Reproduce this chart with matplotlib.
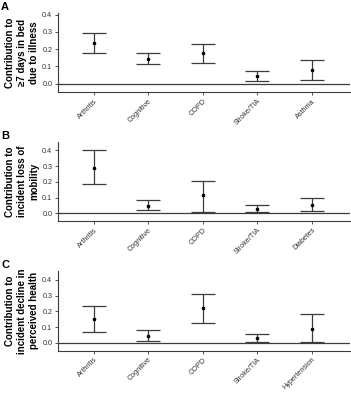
import matplotlib
matplotlib.use("Agg")
import matplotlib.pyplot as plt

plt.rcParams['font.family'] = ['Liberation Sans', 'DejaVu Sans']

# panel A: >=7 days in bed due to illness
cats_a = ["Arthritis", "Cognitive", "COPD", "Stroke/TIA", "Asthma"]
est_a = [0.235, 0.143, 0.178, 0.043, 0.080]
lo_a = [0.175, 0.113, 0.120, 0.017, 0.022]
hi_a = [0.295, 0.175, 0.232, 0.073, 0.135]

# panel B: incident loss of mobility
cats_b = ["Arthritis", "Cognitive", "COPD", "Stroke/TIA", "Diabetes"]
est_b = [0.290, 0.046, 0.113, 0.027, 0.053]
lo_b = [0.188, 0.018, 0.005, 0.005, 0.015]
hi_b = [0.405, 0.085, 0.207, 0.052, 0.100]

# panel C: incident decline in perceived health
cats_c = ["Arthritis", "Cognitive", "COPD", "Stroke/TIA", "Hypertension"]
est_c = [0.150, 0.040, 0.220, 0.028, 0.090]
lo_c = [0.070, 0.012, 0.128, 0.005, 0.005]
hi_c = [0.235, 0.080, 0.310, 0.056, 0.183]

ylabels = ["Contribution to\n\u22657 days in bed\ndue to illness",
           "Contribution to\nincident loss of\nmobility",
           "Contribution to\nincident decline in\nperceived health"]
letters = ["A", "B", "C"]
yticks = [0.0, 0.1, 0.2, 0.3, 0.4]

fig = plt.figure(figsize=(3.51, 3.94), dpi=100)
boxes = [(0.165, 0.766, 0.832, 0.201),
         (0.165, 0.439, 0.832, 0.201),
         (0.165, 0.110, 0.832, 0.202)]
tops = [0.41, 0.455, 0.455]
panels = [(cats_a, est_a, lo_a, hi_a), (cats_b, est_b, lo_b, hi_b),
          (cats_c, est_c, lo_c, hi_c)]

grey = "#3c3c3c"
for i, (cats, est, lo, hi) in enumerate(panels):
    ax = fig.add_axes(boxes[i])
    x = list(range(len(cats)))
    err = [[e - l for e, l in zip(est, lo)], [h - e for e, h in zip(est, hi)]]
    ax.errorbar(x, est, yerr=err, fmt="o", color="black", ms=1.6,
                ecolor=grey, elinewidth=0.9, capsize=8.5, capthick=0.9)
    ax.axhline(0, color=grey, lw=0.9)
    ax.set_xlim(-0.66, 4.7)
    ax.set_ylim(-0.05, tops[i])
    ax.set_yticks(yticks)
    ax.set_yticklabels(["%.1f" % t for t in yticks])
    ax.set_xticks(x)
    ax.set_xticklabels(cats, rotation=45, ha="right", rotation_mode="anchor")
    for s in ["top", "right"]:
        ax.spines[s].set_visible(False)
    for s in ["left", "bottom"]:
        ax.spines[s].set_color(grey)
        ax.spines[s].set_linewidth(0.8)
    ax.tick_params(labelsize=5.2, colors="#333333", length=2.5, width=0.6, pad=1.5)
    ax.set_ylabel(ylabels[i], fontsize=7, fontweight="bold", labelpad=2,
                  linespacing=1.3)
    fig.text(0.003, boxes[i][1] + boxes[i][3] + 0.003, letters[i],
             fontsize=8, fontweight="bold", va="bottom", ha="left")

fig.savefig("out.png", dpi=100)
